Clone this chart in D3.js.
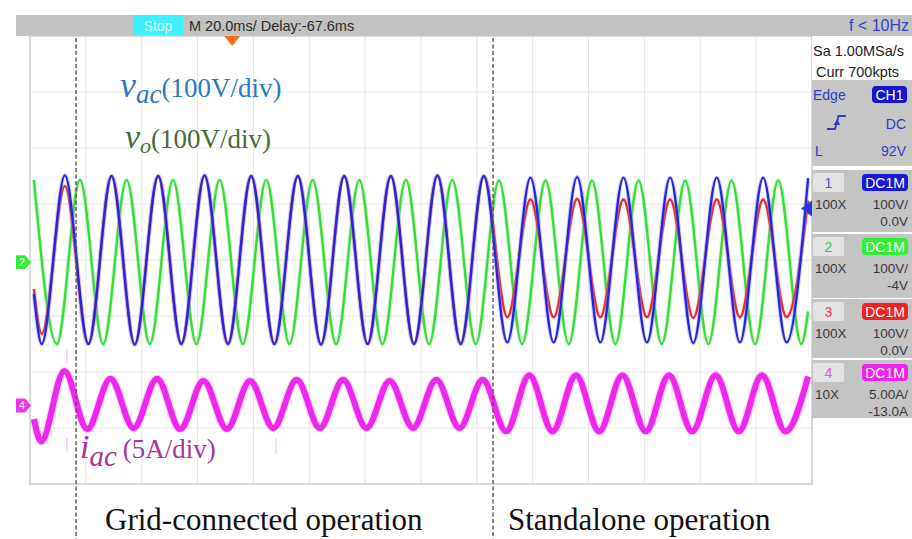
<!DOCTYPE html>
<html>
<head>
<meta charset="utf-8">
<script src="https://cdn.jsdelivr.net/npm/d3@7"></script>
<style>
  html, body { margin: 0; padding: 0; background: #fff; }
  svg { display: block; }
</style>
</head>
<body>
<svg id="scope" width="912" height="539"></svg>
<script>
// ---- Acquisition settings ----
const timePerDiv = 20;      // ms/div
const delay = -67.6;        // ms
const hDivs = 14;
const vDivs = 8;

// ---- Channel settings ----
const channelIds        = [1, 2, 3, 4];
const channelColors     = ["#2626d8", "#38dc38", "#e42c2c", "#ee26ee"];
const channelHalo       = ["#9090f2", "#a0f0a0", "#f29494", "#f6a8f3"];
const channelBoxColors  = ["#1818d6", "#33ee33", "#ee2222", "#ee22ee"];
const channelNumColors  = ["#4a55d0", "#45c045", "#e04848", "#e050e0"];
const channelScales     = [100, 100, 100, 5];    // V/div, V/div, V/div, A/div
const channelOffsets    = [0, -4, 0, -13];       // V, V, V, A
const channelProbes     = ["100X", "100X", "100X", "10X"];
const channelScaleText  = ["100V/", "100V/", "100V/", "5.00A/"];
const channelOffsetText = ["0.0V", "-4V", "0.0V", "-13.0A"];

// ---- Trace turning points [time ms, value] ----
// CH1: v_ac (V)
const vacPoints = [
  [-71.0, -61], [-68.2, -150], [-59.9, 151], [-51.5, -150], [-43.2, 150], [-34.9, -151],
  [-26.5, 150], [-18.2, -150], [-9.9, 151], [-1.5, -150], [6.8, 150], [15.1, -150],
  [23.5, 150], [31.8, -151], [40.1, 150], [48.5, -150], [56.8, 150], [65.1, -150],
  [73.5, 151], [81.8, -150], [90.1, 150], [98.5, -147], [106.8, 147], [115.1, -147],
  [123.5, 148], [131.8, -147], [140.1, 147], [148.5, -147], [156.8, 147], [165.1, -148],
  [173.5, 147], [181.8, -147], [190.1, 147], [198.5, -147], [206.2, 146]
];
// CH2: v_o (V)
const voPoints = [
  [-71.0, 147], [-62.8, -146], [-54.5, 147], [-46.2, -146], [-37.8, 147], [-29.5, -146],
  [-21.2, 147], [-12.8, -146], [-4.5, 147], [3.8, -146], [12.2, 147], [20.5, -146],
  [28.8, 147], [37.2, -146], [45.5, 147], [53.8, -146], [62.2, 147], [70.5, -146],
  [78.8, 147], [87.2, -146], [95.5, 146], [103.8, -146], [112.2, 146], [120.5, -146],
  [128.8, 146], [137.2, -146], [145.5, 146], [153.8, -146], [162.2, 146], [170.5, -146],
  [178.8, 146], [187.2, -146], [195.5, 146], [203.8, -146], [206.2, -88]
];
// CH3 (V)
const ch3Points = [
  [-71.0, -52], [-68.2, -132], [-59.9, 132], [-51.5, -149], [-43.2, 149], [-34.9, -150],
  [-26.5, 149], [-18.2, -149], [-9.9, 150], [-1.5, -149], [6.8, 149], [15.1, -149],
  [23.5, 149], [31.8, -150], [40.1, 149], [48.5, -149], [56.8, 149], [65.1, -149],
  [73.5, 150], [81.8, -149], [90.1, 149], [98.5, -102], [106.8, 108], [115.1, -102],
  [123.5, 109], [131.8, -102], [140.1, 108], [148.5, -102], [156.8, 108], [165.1, -103],
  [173.5, 108], [181.8, -102], [190.1, 108], [198.5, -102], [206.2, 106]
];
// CH4: i_ac (A)
const iacPoints = [
  [-71.0, -1.2], [-68.4, -3.2], [-60.1, 3.1], [-51.9, -2.1], [-43.6, 2.4], [-35.3, -2.0],
  [-26.9, 2.4], [-18.6, -2.1], [-10.3, 2.2], [-1.9, -2.1], [6.4, 2.2], [14.7, -2.0],
  [23.1, 2.3], [31.4, -2.0], [39.7, 2.3], [48.1, -2.0], [56.4, 2.2], [64.7, -2.0],
  [73.1, 2.3], [81.4, -2.0], [89.7, 2.3], [98.1, -2.3], [106.4, 2.7], [114.7, -2.3],
  [123.1, 2.7], [131.4, -2.3], [139.7, 2.7], [148.1, -2.3], [156.4, 2.7], [164.7, -2.3],
  [173.1, 2.7], [181.4, -2.3], [189.7, 2.7], [198.1, -2.3], [206.2, 2.6]
];
// Short current glitches [time ms, low A, high A]
const iacSpikes = [[-59.2, -4.2, -2.9], [-59.2, 3.8, 5.0], [15.7, -4.3, -2.9]];

// Operating-mode boundaries (ms) and names
const modeTimes  = [-55.9, 93.4];
const modeLabels = ["Grid-connected operation", "Standalone operation"];

// ---- Geometry ----
const plot = { left: 30, right: 812, top: 36, bottom: 484 };
const svg = d3.select("#scope");
const sans = "'Liberation Sans', Arial, sans-serif";
const serif = "'Liberation Serif', 'Times New Roman', serif";

const x = d3.scaleLinear()
  .domain([-delay - hDivs / 2 * timePerDiv, -delay + hDivs / 2 * timePerDiv])
  .range([plot.left, plot.right]);

const yScales = channelIds.map((id, i) => d3.scaleLinear()
  .domain([-vDivs / 2 * channelScales[i] - channelOffsets[i], vDivs / 2 * channelScales[i] - channelOffsets[i]])
  .range([plot.bottom, plot.top]));

// ---- Top status bar ----
svg.append("rect").attr("x", 16).attr("y", 15).attr("width", 896).attr("height", 21).attr("fill", "#c2c2c2");
svg.append("rect").attr("x", 133).attr("y", 15).attr("width", 50).attr("height", 21).attr("fill", "#3ef0fa");
svg.append("text").attr("x", 158).attr("y", 30.5).attr("text-anchor", "middle")
  .attr("font-family", sans).attr("font-size", 14).attr("fill", "#dcfbff").text("Stop");
svg.append("text").attr("x", 189).attr("y", 30.5)
  .attr("font-family", sans).attr("font-size", 14.5).attr("fill", "#2a2a2a")
  .text(`M ${timePerDiv.toFixed(1)}ms/ Delay:${delay.toFixed(1)}ms`);
svg.append("text").attr("x", 909).attr("y", 31).attr("text-anchor", "end")
  .attr("font-family", sans).attr("font-size", 16).attr("fill", "#3343c8").text("f < 10Hz");

// ---- Graticule ----
const grid = svg.append("g");
const xDivs = d3.range(hDivs + 1).map(k => x.domain()[0] + k * timePerDiv);
const yDivs = d3.range(vDivs + 1).map(k => plot.top + k * (plot.bottom - plot.top) / vDivs);
grid.selectAll("line.v").data(xDivs.slice(1, -1)).join("line")
  .attr("x1", d => x(d)).attr("x2", d => x(d)).attr("y1", plot.top).attr("y2", plot.bottom)
  .attr("stroke", "#e6e6e6").attr("stroke-width", 1);
grid.selectAll("line.h").data(yDivs.slice(1, -1)).join("line")
  .attr("x1", plot.left).attr("x2", plot.right).attr("y1", d => d).attr("y2", d => d)
  .attr("stroke", "#e6e6e6").attr("stroke-width", 1);
grid.append("rect").attr("x", plot.left).attr("y", plot.top)
  .attr("width", plot.right - plot.left).attr("height", plot.bottom - plot.top)
  .attr("fill", "none").attr("stroke", "#cdcdcd").attr("stroke-width", 1.5);

// ---- Traces ----
svg.append("clipPath").attr("id", "plotClip").append("rect")
  .attr("x", plot.left).attr("y", plot.top)
  .attr("width", plot.right - plot.left).attr("height", plot.bottom - plot.top);
const traces = svg.append("g").attr("clip-path", "url(#plotClip)");

function drawTrace(points, ch, coreWidth, haloWidth, haloOpacity) {
  const i = ch - 1;
  const line = d3.line().x(d => x(d[0])).y(d => yScales[i](d[1])).curve(d3.curveMonotoneX);
  traces.append("path").datum(points).attr("d", line).attr("fill", "none")
    .attr("stroke", channelHalo[i]).attr("stroke-width", haloWidth).attr("stroke-opacity", haloOpacity)
    .attr("stroke-linejoin", "round");
  traces.append("path").datum(points).attr("d", line).attr("fill", "none")
    .attr("stroke", channelColors[i]).attr("stroke-width", coreWidth).attr("stroke-linejoin", "round");
}

// current spikes
traces.selectAll("line.spike").data(iacSpikes).join("line")
  .attr("x1", d => x(d[0])).attr("x2", d => x(d[0]))
  .attr("y1", d => yScales[3](d[1])).attr("y2", d => yScales[3](d[2]))
  .attr("stroke", channelColors[3]).attr("stroke-opacity", 0.3).attr("stroke-width", 1.2);

drawTrace(iacPoints, 4, 6, 8.5, 0.45);
drawTrace(voPoints, 2, 2.4, 4.5, 0.4);
drawTrace(ch3Points, 3, 2.4, 4.5, 0.35);
drawTrace(vacPoints, 1, 2.3, 4.5, 0.4);

// ---- Channel ground markers (left) ----
function leftMarker(ch, color) {
  const i = ch - 1;
  const yc = yScales[i](0);
  const g = svg.append("g");
  g.append("path")
    .attr("d", `M16,${yc - 7} H25 L31,${yc} L25,${yc + 7} H16 Z`)
    .attr("fill", color);
  g.append("text").attr("x", 22).attr("y", yc + 3.5).attr("text-anchor", "middle")
    .attr("font-family", sans).attr("font-size", 10).attr("fill", "#fff").text(ch);
}
leftMarker(2, "#33ee33");
leftMarker(4, "#ee33ee");

// trigger position marker (top)
const tx = x(0);
svg.append("path").attr("d", `M${tx - 8},36 H${tx + 8} L${tx},46 Z`).attr("fill", "#ff6a1a");

// trigger level marker (right), level 92 V on CH1
const trigLevel = 92;
const ty = yScales[0](trigLevel);
svg.append("path").attr("d", `M812,${ty - 8} L812,${ty + 8} L801,${ty} Z`).attr("fill", "#2a35e0");

// ---- Mode boundaries and labels ----
svg.selectAll("line.mode").data(modeTimes).join("line")
  .attr("x1", d => x(d)).attr("x2", d => x(d)).attr("y1", 38).attr("y2", 539)
  .attr("stroke", "#555").attr("stroke-width", 1.4).attr("stroke-dasharray", "4,2.5");
svg.append("text").attr("x", 105).attr("y", 530).attr("font-family", serif)
  .attr("font-size", 31).attr("fill", "#111").text(modeLabels[0]);
svg.append("text").attr("x", 508).attr("y", 530).attr("font-family", serif)
  .attr("font-size", 31).attr("fill", "#111").text(modeLabels[1]);

// ---- Signal annotations ----
const vacLabel = svg.append("text").attr("x", 120).attr("y", 97).attr("font-family", serif).attr("fill", "#2c79c0");
vacLabel.append("tspan").attr("font-style", "italic").attr("font-size", 36).text("v");
vacLabel.append("tspan").attr("font-style", "italic").attr("font-size", 27).attr("dy", 6).text("ac");
vacLabel.append("tspan").attr("font-size", 27).attr("dy", -6).text("(100V/div)");

const voLabel = svg.append("text").attr("x", 125).attr("y", 148).attr("font-family", serif).attr("fill", "#466d32");
voLabel.append("tspan").attr("font-style", "italic").attr("font-size", 34).text("v");
voLabel.append("tspan").attr("font-style", "italic").attr("font-size", 22).attr("dy", 5).text("o");
voLabel.append("tspan").attr("font-size", 27).attr("dy", -5).text("(100V/div)");

const iacLabel = svg.append("text").attr("x", 80).attr("y", 458).attr("font-family", serif).attr("fill", "#a8339a");
iacLabel.append("tspan").attr("font-style", "italic").attr("font-size", 34).text("i");
iacLabel.append("tspan").attr("font-style", "italic").attr("font-size", 29).attr("dy", 8).text("ac");
iacLabel.append("tspan").attr("font-size", 27).attr("dy", -8).attr("dx", 6).text("(5A/div)");

// ---- Right side panel ----
const panel = svg.append("g").attr("font-family", sans);
panel.append("rect").attr("x", 812).attr("y", 36).attr("width", 100).attr("height", 44).attr("fill", "#fff");
panel.append("text").attr("x", 813).attr("y", 56).attr("font-size", 14.5).attr("fill", "#222").text("Sa 1.00MSa/s");
panel.append("text").attr("x", 816).attr("y", 77).attr("font-size", 14.5).attr("fill", "#222").text("Curr 700kpts");

panel.append("rect").attr("x", 812).attr("y", 80).attr("width", 100).attr("height", 86).attr("fill", "#c6c6c6");
panel.append("text").attr("x", 813).attr("y", 100).attr("font-size", 14).attr("fill", "#2b3fc0").text("Edge");
panel.append("rect").attr("x", 872).attr("y", 86).attr("width", 35).attr("height", 17).attr("rx", 4).attr("fill", "#1414d0");
panel.append("text").attr("x", 889.5).attr("y", 100).attr("text-anchor", "middle").attr("font-size", 14).attr("fill", "#fff").text("CH1");
panel.append("path").attr("d", "M827,129 H835 L838.5,116 H846").attr("fill", "none")
  .attr("stroke", "#2b3fc0").attr("stroke-width", 1.8);
panel.append("path").attr("d", "M833.5,125 L837.5,119 L840,125 Z").attr("fill", "#2b3fc0");
panel.append("text").attr("x", 906).attr("y", 129).attr("text-anchor", "end").attr("font-size", 14).attr("fill", "#2b3fc0").text("DC");
panel.append("text").attr("x", 815).attr("y", 156).attr("font-size", 14).attr("fill", "#2b3fc0").text("L");
panel.append("text").attr("x", 906).attr("y", 156).attr("text-anchor", "end").attr("font-size", 14).attr("fill", "#2b3fc0").text(`${trigLevel}V`);

const blockTop = [170, 234, 299, 360];
const blockBottom = [232, 298, 358, 418];
channelIds.forEach((id, i) => {
  const t = blockTop[i];
  panel.append("rect").attr("x", 812).attr("y", t).attr("width", 100).attr("height", blockBottom[i] - t).attr("fill", "#c4c4c4");
  panel.append("rect").attr("x", 813).attr("y", t + 3).attr("width", 31).attr("height", 19).attr("rx", 2).attr("fill", "#e3e3e3");
  panel.append("text").attr("x", 828.5).attr("y", t + 18).attr("text-anchor", "middle")
    .attr("font-size", 14).attr("fill", channelNumColors[i]).text(id);
  panel.append("rect").attr("x", 862).attr("y", t + 4).attr("width", 46).attr("height", 17).attr("rx", 4).attr("fill", channelBoxColors[i]);
  panel.append("text").attr("x", 885).attr("y", t + 18).attr("text-anchor", "middle")
    .attr("font-size", 14).attr("fill", "#fff").text("DC1M");
  panel.append("text").attr("x", 815).attr("y", t + 39).attr("font-size", 13.5).attr("fill", "#3a3a3a").text(channelProbes[i]);
  panel.append("text").attr("x", 908).attr("y", t + 39).attr("text-anchor", "end").attr("font-size", 13.5).attr("fill", "#3a3a3a").text(channelScaleText[i]);
  panel.append("text").attr("x", 908).attr("y", t + 56).attr("text-anchor", "end").attr("font-size", 13.5).attr("fill", "#3a3a3a").text(channelOffsetText[i]);
});
</script>
</body>
</html>
